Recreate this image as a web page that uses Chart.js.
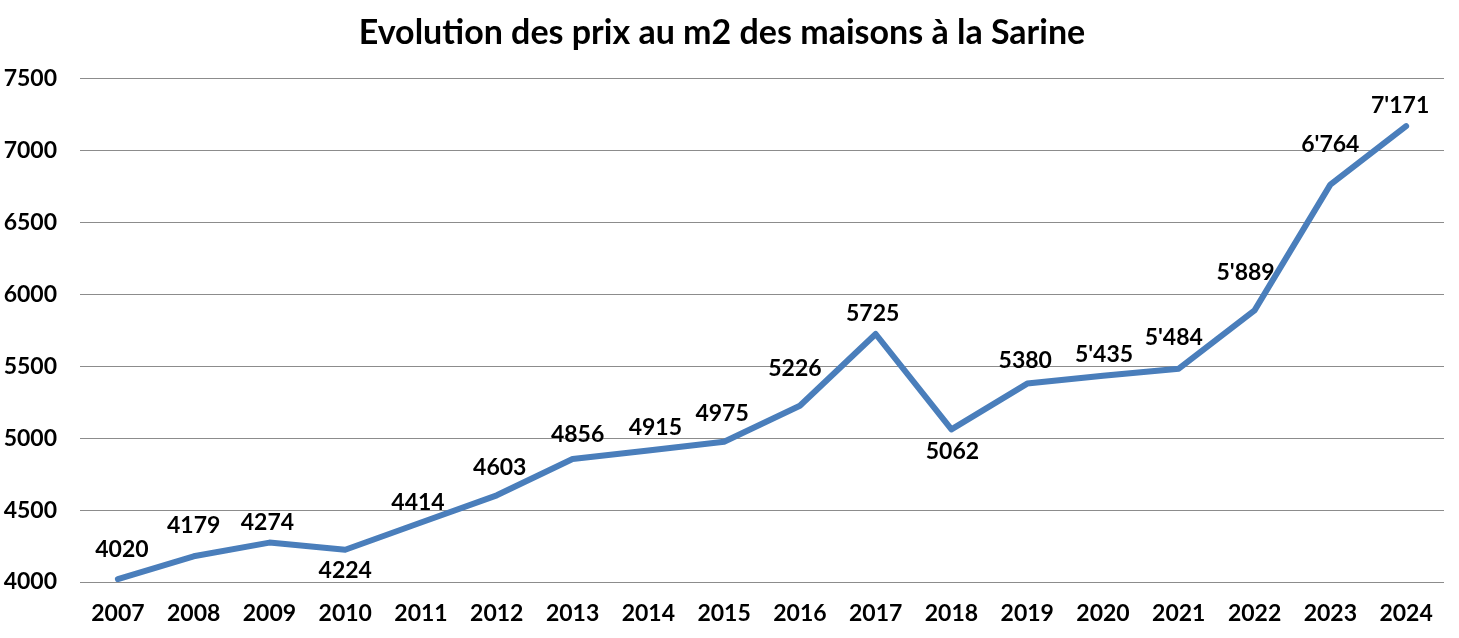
<!DOCTYPE html>
<html>
<head>
<meta charset="utf-8">
<script src="https://cdn.jsdelivr.net/npm/chart.js@4"></script>
<style>
  html,body{margin:0;padding:0;background:#fff;}
  #wrap{width:1459px;height:638px;}
</style>
</head>
<body>
<div id="wrap"><canvas id="myChart" width="1459" height="638"></canvas></div>
<script>
const years=["2007","2008","2009","2010","2011","2012","2013","2014","2015","2016","2017","2018","2019","2020","2021","2022","2023","2024"];
const prices=[4020,4179,4274,4224,4414,4603,4856,4915,4975,5226,5725,5062,5380,5435,5484,5889,6764,7171];
const priceLabels=["4020","4179","4274","4224","4414","4603","4856","4915","4975","5226","5725","5062","5380","5'435","5'484","5'889","6'764","7'171"];
const yTicks=[4000,4500,5000,5500,6000,6500,7000,7500];

const FONT="Lato, 'Open Sans', sans-serif";

// label placement (dx, dy from the point), like excel did it
const labelDx=[4,0,-2,0,-3,3,5,7,-2,-5,-3,1,-2,1,-5,-9,0,-6];
const labelDy=[-30,-31,-20,21,-20,-28,-24,-23,-28,-37,-20,22,-23,-21,-31,-38,-40,-21];

const valueLabels={
    id:"valueLabels",
    afterDatasetsDraw(chart){
        const ctx=chart.ctx;
        const meta=chart.getDatasetMeta(0);
        ctx.save();
        ctx.font="bold 23px "+FONT;
        ctx.fillStyle="#000";
        ctx.textAlign="center";
        ctx.textBaseline="middle";
        meta.data.forEach((pt,i)=>{
            ctx.fillText(priceLabels[i],pt.x+labelDx[i],pt.y+labelDy[i]);
        });
        ctx.restore();
    }
};

const ctx=document.getElementById("myChart").getContext("2d");
const myChart=new Chart(ctx,{
    type:"line",
    data:{
        labels:years,
        datasets:[{
            data:prices,
            borderColor:"#4a7ebb",
            borderWidth:6,
            borderCapStyle:"round",
            borderJoinStyle:"round",
            tension:0,
            pointRadius:0,
            fill:false,
        }],
    },
    options:{
        responsive:false,
        animation:false,
        layout:{padding:{left:0,right:15,top:0,bottom:0}},
        plugins:{
            legend:{display:false},
            tooltip:{enabled:false},
            title:{
                display:true,
                text:"Evolution des prix au m2 des maisons à la Sarine",
                color:"#000",
                font:{family:FONT,size:34,weight:"bold",lineHeight:1.2},
                padding:{top:13,bottom:25},
            },
        },
        scales:{
            x:{
                offset:true,
                grid:{display:false,drawTicks:false},
                border:{display:false},
                ticks:{color:"#000",font:{family:FONT,size:23,weight:"bold"},padding:18,maxRotation:0},
                afterFit(scale){scale.height=56;},
            },
            y:{
                min:4000,
                max:7500,
                afterBuildTicks(scale){scale.ticks=yTicks.map(v=>({value:v}));},
                grid:{color:"#8c8c8c",lineWidth:1,drawTicks:false},
                border:{display:false},
                ticks:{color:"#000",font:{family:FONT,size:23,weight:"bold"},padding:23,callback:(v)=>String(v)},
                afterFit(scale){scale.width=80;},
            },
        },
    },
    plugins:[valueLabels],
});
</script>
</body>
</html>
